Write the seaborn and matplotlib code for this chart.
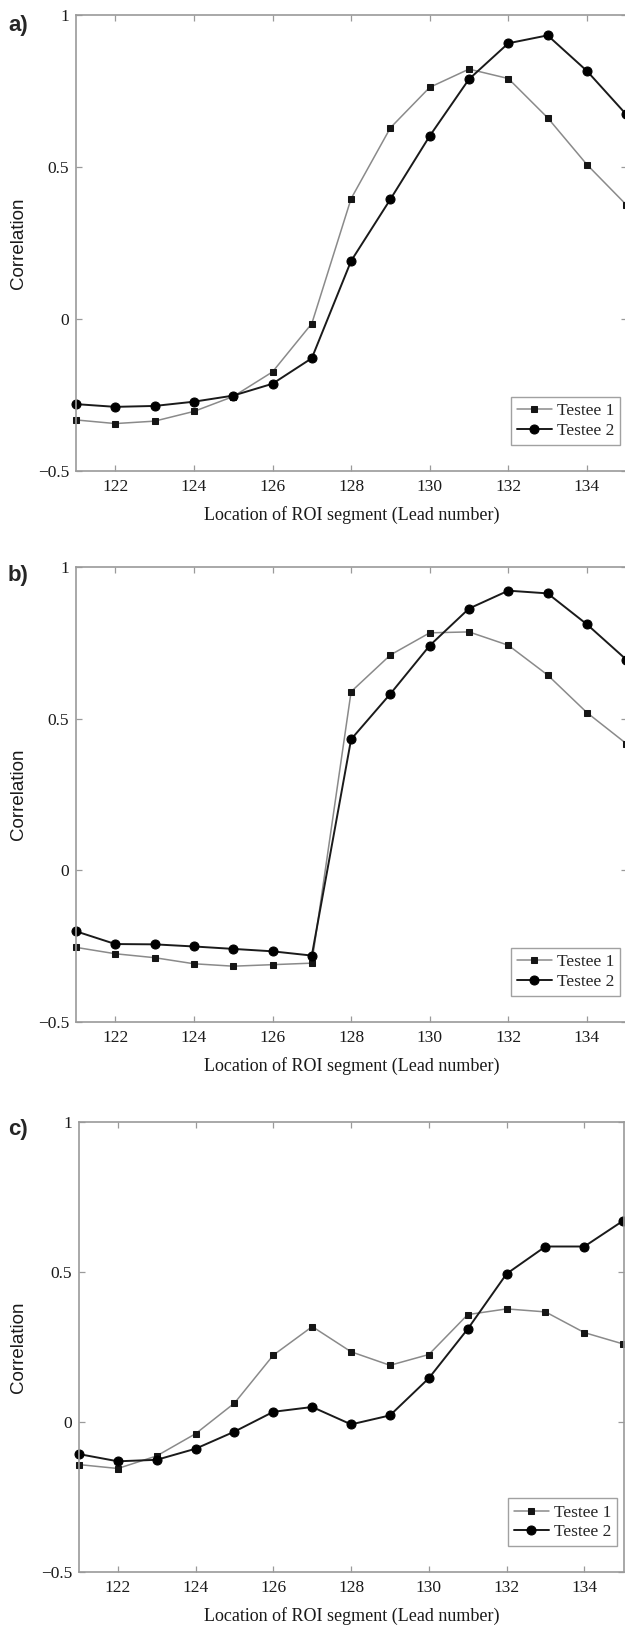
import numpy as np
import pandas as pd
import matplotlib
matplotlib.use("Agg")
import matplotlib.pyplot as plt
import seaborn as sns

# ---- data ----
leads = [121, 122, 123, 124, 125, 126, 127, 128, 129, 130, 131, 132, 133, 134, 135]

a_testee1 = [-0.332, -0.344, -0.336, -0.304, -0.255, -0.174, -0.015, 0.396, 0.629, 0.762, 0.822, 0.791, 0.662, 0.508, 0.376]
a_testee2 = [-0.280, -0.289, -0.286, -0.272, -0.252, -0.213, -0.129, 0.191, 0.394, 0.602, 0.789, 0.907, 0.933, 0.816, 0.673]

b_testee1 = [-0.254, -0.275, -0.288, -0.308, -0.316, -0.311, -0.306, 0.589, 0.710, 0.783, 0.786, 0.742, 0.644, 0.520, 0.418]
b_testee2 = [-0.201, -0.243, -0.244, -0.251, -0.259, -0.267, -0.281, 0.432, 0.582, 0.741, 0.863, 0.922, 0.913, 0.811, 0.695]

c_testee1 = [-0.142, -0.155, -0.113, -0.039, 0.063, 0.223, 0.318, 0.234, 0.189, 0.225, 0.358, 0.377, 0.367, 0.298, 0.260]
c_testee2 = [-0.107, -0.131, -0.126, -0.089, -0.032, 0.034, 0.050, -0.008, 0.022, 0.146, 0.310, 0.494, 0.585, 0.585, 0.671]

panel_labels = ["a)", "b)", "c)"]
series_names = ["Testee 1", "Testee 2"]
x_ticks = [122, 124, 126, 128, 130, 132, 134]
y_ticks = [-0.5, 0, 0.5, 1]
y_tick_labels = ["\u22120.5", "0", "0.5", "1"]
x_label = "Location of ROI segment (Lead number)"
y_label = "Correlation"

panels = [(a_testee1, a_testee2), (b_testee1, b_testee2), (c_testee1, c_testee2)]

# ---- style ----
sns.set_style("white")
plt.rcParams["font.family"] = ["Liberation Serif", "DejaVu Serif"]

W, H = 625, 1625
fig = plt.figure(figsize=(W / 100, H / 100), dpi=100)

# axes boxes in pixels: (left, top, right, bottom)
boxes = [(76, 15, 627, 471), (76, 567, 627, 1022), (79, 1122, 624, 1572)]
label_pos = [(8, 25), (8, 575), (8, 1130)]

spine_col = "#9a9a9a"

for i, ((s1, s2), box) in enumerate(zip(panels, boxes)):
    l, t, r, b = box
    ax = fig.add_axes([l / W, 1 - b / H, (r - l) / W, (b - t) / H])
    df = pd.DataFrame({
        "lead": leads * 2,
        "corr": list(s1) + list(s2),
        "who": [series_names[0]] * len(leads) + [series_names[1]] * len(leads),
    })
    d1 = df[df["who"] == series_names[0]]
    d2 = df[df["who"] == series_names[1]]
    sns.lineplot(data=d1, x="lead", y="corr", ax=ax, color="#8a8a8a", lw=1.1,
                 marker="s", markersize=4, markerfacecolor="#151515",
                 markeredgecolor="#151515", label=series_names[0], clip_on=False)
    sns.lineplot(data=d2, x="lead", y="corr", ax=ax, color="#1a1a1a", lw=1.4,
                 marker="o", markersize=6.5, markerfacecolor="#000000",
                 markeredgecolor="#000000", label=series_names[1], clip_on=False)
    ax.set_xlim(121, 135.02)
    ax.set_ylim(-0.5, 1)
    ax.set_xticks(x_ticks)
    ax.set_yticks(y_ticks)
    ax.set_yticklabels(y_tick_labels)
    ax.tick_params(direction="in", length=4, width=0.9, color=spine_col,
                   top=True, right=True, bottom=True, left=True,
                   labelsize=12.5, pad=6, labelcolor="#1a1a1a")
    ax.tick_params(axis="y", pad=5)
    for sp in ax.spines.values():
        sp.set_color(spine_col)
        sp.set_linewidth(1.2)
        sp.set_visible(True)
    ax.set_xlabel(x_label, fontsize=13, labelpad=8, color="#1a1a1a")
    ax.set_ylabel(y_label, fontsize=13.5, family=["Liberation Sans", "DejaVu Sans"],
                  color="#1a1a1a")
    ax.yaxis.set_label_coords(-(l - 27) / (r - l), 0.5)
    leg = ax.legend(loc="lower right", bbox_to_anchor=(0.988, 0.057), borderaxespad=0,
                    frameon=True, fancybox=False, fontsize=12.5, handlelength=2.0,
                    handletextpad=0.3, borderpad=0.35, labelspacing=0.2)
    leg.get_frame().set_edgecolor("#8a8a8a")
    leg.get_frame().set_linewidth(1.0)
    px, py = label_pos[i]
    fig.text(px / W, 1 - py / H, panel_labels[i], fontsize=16, fontweight="bold",
             family=["Liberation Sans", "DejaVu Sans"], ha="left", va="center")

fig.savefig("out.png", dpi=100, facecolor="white")
